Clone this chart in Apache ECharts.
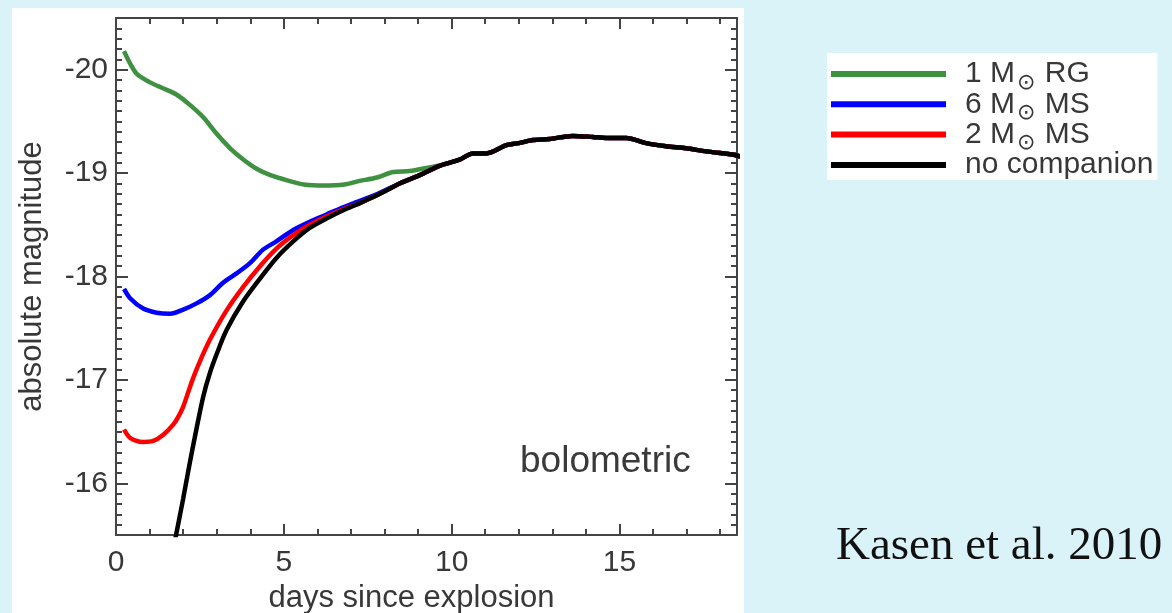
<!DOCTYPE html>
<html>
<head>
<meta charset="utf-8">
<script src="https://cdn.jsdelivr.net/npm/echarts@6/dist/echarts.min.js"></script>
<style>
  html, body { margin: 0; padding: 0; background: #daf3f8; }
  #chart { width: 1172px; height: 613px; }
</style>
</head>
<body>
<div id="chart"></div>
<script>
// light curves (days since explosion vs absolute magnitude)
const rgDays = [0.24, 0.42, 0.62, 1.0, 1.4, 1.8, 2.2, 2.6, 3.0, 3.4, 3.8, 4.2, 4.6, 5.1, 5.6, 6.2, 6.8, 7.2, 7.8, 8.25, 8.75, 9.25, 9.7]
const rgMag = [-20.18, -20.06, -19.96, -19.88, -19.82, -19.76, -19.66, -19.54, -19.38, -19.24, -19.13, -19.04, -18.98, -18.93, -18.89, -18.88, -18.89, -18.92, -18.96, -19.01, -19.02, -19.05, -19.08]

const ms6Days = [0.24, 0.42, 0.81, 1.21, 1.61, 2.0, 2.4, 2.8, 3.19, 3.59, 3.99, 4.38, 4.78, 5.28, 5.77, 6.27, 6.77, 7.16, 7.8, 8.45, 9.05, 9.64]
const ms6Mag = [-17.88, -17.79, -17.69, -17.65, -17.64, -17.68, -17.74, -17.82, -17.94, -18.03, -18.13, -18.26, -18.34, -18.45, -18.53, -18.60, -18.67, -18.72, -18.80, -18.90, -18.98, -19.07]

const ms2Days = [0.24, 0.42, 0.81, 1.11, 1.41, 1.71, 1.85, 2.0, 2.15, 2.3, 2.5, 2.8, 3.29, 3.79, 4.29, 4.78, 5.28, 5.77, 6.27, 6.77, 7.26, 7.8, 8.45, 9.05, 9.64]
const ms2Mag = [-16.52, -16.44, -16.40, -16.41, -16.47, -16.57, -16.64, -16.74, -16.88, -17.02, -17.18, -17.39, -17.67, -17.90, -18.10, -18.27, -18.40, -18.50, -18.58, -18.65, -18.71, -18.79, -18.90, -18.98, -19.07]

const noneDays = [1.74, 1.79, 2.0, 2.2, 2.4, 2.6, 2.8, 3.0, 3.29, 3.79, 4.29, 4.78, 5.28, 5.77, 6.27, 6.77, 7.26, 7.8, 8.45, 9.05, 9.64]
const noneMag = [-15.42, -15.5, -15.85, -16.2, -16.53, -16.84, -17.07, -17.25, -17.48, -17.76, -17.98, -18.18, -18.34, -18.47, -18.56, -18.64, -18.71, -18.79, -18.90, -18.98, -19.07]

// after ~10 days all models share the same curve
const tailDays = [10.24, 10.63, 11.03, 11.63, 12.0, 12.42, 12.92, 13.6, 14.2, 14.6, 15.2, 15.79, 16.39, 16.98, 17.58, 18.37, 18.6]
const tailMag = [-19.13, -19.19, -19.19, -19.27, -19.29, -19.32, -19.33, -19.36, -19.35, -19.34, -19.34, -19.29, -19.26, -19.24, -19.21, -19.18, -19.16]

const seriesNames = ['1 M⊙ RG', '6 M⊙ MS', '2 M⊙ MS', 'no companion']
const seriesColors = ['#3d9140', '#0000ff', '#ff0000', '#000000']
const yTickValues = [-20, -19, -18, -17, -16]

function pairs(days, mags) {
  const all = days.concat(tailDays)
  const vals = mags.concat(tailMag)
  return all.map((d, i) => [d, vals[i]])
}

const curves = [
  pairs(rgDays, rgMag),
  pairs(ms6Days, ms6Mag),
  pairs(ms2Days, ms2Mag),
  pairs(noneDays, noneMag),
]

const font = '"Liberation Sans", Arial, Helvetica, sans-serif'
const axisColor = '#444'
const labelColor = '#383838'

const xBase = { type: 'value', min: 0, max: 18.5, splitLine: { show: false } }
const yBase = { type: 'value', min: -20.5, max: -15.5, inverse: true, splitLine: { show: false } }
const lineOn = { show: true, onZero: false, lineStyle: { color: axisColor, width: 2 } }
const lineOff = { show: false, onZero: false }

const chart = echarts.init(document.getElementById('chart'))

chart.setOption({
  backgroundColor: '#daf3f8',
  animation: false,
  textStyle: { fontFamily: font },
  grid: { left: 116, right: 435, top: 18, bottom: 78, outerBoundsMode: 'none', containLabel: false },
  graphic: [
    { type: 'rect', z: -10, shape: { x: 12, y: 8, width: 732, height: 610 }, style: { fill: '#ffffff' } },
    {
      type: 'text', left: 520, top: 443,
      style: { text: 'bolometric', font: '37px ' + font, fill: '#3a3a3a' },
    },
    {
      type: 'text', left: 836, top: 523,
      style: { text: 'Kasen et al. 2010', font: '47px "Liberation Serif", "DejaVu Serif", serif', fill: '#111' },
    },
  ],
  legend: {
    left: 827, top: 53, orient: 'vertical',
    backgroundColor: '#ffffff',
    padding: [6, 4, 0, 4],
    itemWidth: 115, itemHeight: 6, itemGap: -4.7,
    icon: 'rect',
    formatter: name => name.replace('⊙', '{s|⊙}'),
    textStyle: {
      fontFamily: font, fontSize: 30, color: labelColor, lineHeight: 30, padding: [0, 0, 0, 14],
      rich: {
        s: { fontFamily: '"DejaVu Sans", sans-serif', fontSize: 22, verticalAlign: 'top', padding: [13, 1, 0, 2], color: labelColor },
      },
    },
  },
  xAxis: [
    Object.assign({}, xBase, {
      position: 'bottom', interval: 5, axisLine: lineOn,
      axisTick: { inside: true, length: 11, lineStyle: { color: axisColor, width: 2 } },
      axisLabel: { fontSize: 30, color: labelColor, margin: 13, fontFamily: font, showMaxLabel: false },
      name: 'days since explosion', nameLocation: 'middle', nameGap: 38,
      nameTextStyle: { fontSize: 31, color: labelColor, fontFamily: font, padding: [0, 30, 0, 0] },
    }),
    Object.assign({}, xBase, {
      position: 'bottom', interval: 1, axisLine: lineOff,
      axisTick: { inside: true, length: 6, lineStyle: { color: axisColor, width: 2 } },
      axisLabel: { show: false },
    }),
    Object.assign({}, xBase, {
      position: 'top', interval: 5, axisLine: lineOn,
      axisTick: { inside: true, length: 11, lineStyle: { color: axisColor, width: 2 } },
      axisLabel: { show: false },
    }),
    Object.assign({}, xBase, {
      position: 'top', interval: 1, axisLine: lineOff,
      axisTick: { inside: true, length: 6, lineStyle: { color: axisColor, width: 2 } },
      axisLabel: { show: false },
    }),
  ],
  yAxis: [
    Object.assign({}, yBase, {
      position: 'left', axisLine: lineOn,
      axisTick: { inside: true, length: 12, customValues: yTickValues, lineStyle: { color: axisColor, width: 2 } },
      axisLabel: { fontSize: 30, color: labelColor, margin: 8, fontFamily: font, customValues: yTickValues },
      name: 'absolute magnitude', nameLocation: 'middle', nameGap: 68,
      nameTextStyle: { fontSize: 31, color: labelColor, fontFamily: font },
    }),
    Object.assign({}, yBase, {
      position: 'left', interval: 0.1, axisLine: lineOff,
      axisTick: { inside: true, length: 6, lineStyle: { color: axisColor, width: 2 } },
      axisLabel: { show: false },
    }),
    Object.assign({}, yBase, {
      position: 'right', axisLine: lineOn,
      axisTick: { inside: true, length: 12, customValues: yTickValues, lineStyle: { color: axisColor, width: 2 } },
      axisLabel: { show: false },
    }),
    Object.assign({}, yBase, {
      position: 'right', interval: 0.1, axisLine: lineOff,
      axisTick: { inside: true, length: 6, lineStyle: { color: axisColor, width: 2 } },
      axisLabel: { show: false },
    }),
  ],
  series: curves.map((data, i) => ({
    name: seriesNames[i],
    type: 'line',
    data: data,
    xAxisIndex: 0,
    yAxisIndex: 0,
    smooth: 0.3,
    showSymbol: false,
    clip: true,
    color: seriesColors[i],
    lineStyle: { width: 4.5, color: seriesColors[i] },
    z: 3 + i,
  })),
})
</script>
</body>
</html>
